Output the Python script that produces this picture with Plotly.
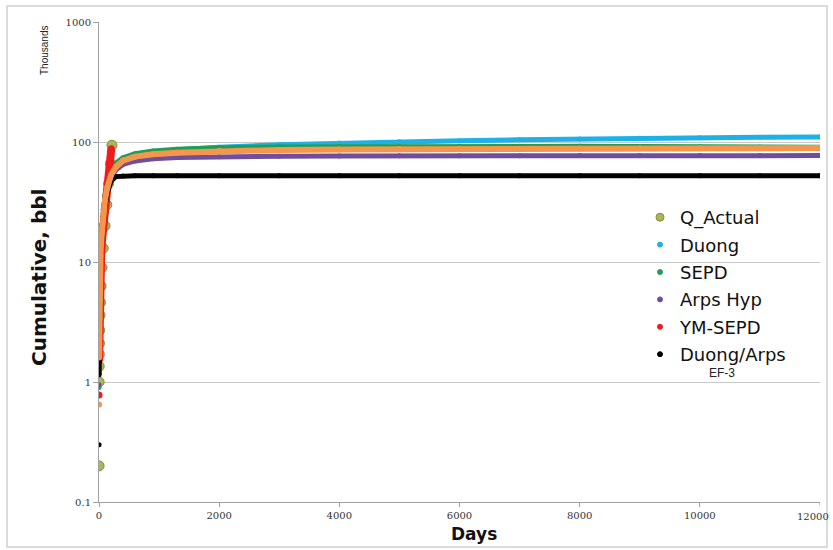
import plotly.graph_objects as go

# ---- data (cumulative production, thousands of bbl) ----
actual_days = [1, 2, 3, 5, 8, 12, 18, 25, 35, 50, 70, 100, 130, 160, 190, 215]
actual_q = [0.2, 1.0, 1.35, 1.7, 2.1, 2.7, 3.6, 4.6, 6.3, 9.0, 13.0, 20.0, 30.0, 45.0, 66.0, 94.0]

ym_days = [1, 2, 3, 5, 8, 12, 18, 25, 35, 50, 70, 100, 130, 160, 190, 205]
ym_sepd = [0.78, 1.5, 2.1, 3.0, 4.0, 5.2, 6.8, 8.5, 11.0, 15.0, 19.5, 26.0, 35.0, 48.0, 66.0, 88.0]

model_days = [1, 2, 3, 5, 8, 12, 18, 25, 35, 50, 70, 100, 140, 200, 280, 400, 600, 900,
              1300, 2000, 3000, 4000, 5000, 6000, 7000, 8000, 9000, 10000, 11000, 12000]
duong = [1.2, 1.9, 2.6, 3.8, 5.3, 7.2, 9.6, 12.3, 16.0, 21.0, 27.5, 36.0, 45.5, 57.0, 66.0,
         73.0, 78.5, 82.5, 86.0, 90.5, 95.0, 98.0, 100.5, 102.5, 104.3, 106.0, 107.3, 108.5,
         109.5, 110.3]
sepd = [0.9, 1.7, 2.5, 3.6, 5.1, 6.9, 9.3, 12.0, 15.5, 20.5, 27.0, 35.5, 45.0, 57.0, 66.5,
        74.0, 80.0, 84.0, 87.0, 89.5, 91.0, 91.6, 91.9, 92.0, 92.0, 92.0, 91.8, 91.3, 90.8, 90.5]
arps_hyp = [0.95, 1.6, 2.3, 3.4, 4.8, 6.5, 8.7, 11.0, 14.2, 18.5, 24.0, 31.5, 40.0, 50.0, 58.5,
            65.0, 69.5, 72.5, 74.3, 75.5, 76.2, 76.5, 76.7, 76.8, 76.9, 77.0, 77.0, 77.0, 77.0,
            77.0]
duong_arps = [0.3, 1.15, 2.0, 3.0, 4.3, 5.9, 8.0, 10.3, 13.3, 17.3, 22.5, 29.5, 38.0, 47.0,
              51.5, 52.2, 52.4, 52.4, 52.4, 52.4, 52.4, 52.4, 52.4, 52.4, 52.4, 52.4, 52.4,
              52.4, 52.4, 52.4]
ef_fit = [0.65, 1.6, 2.3, 3.4, 4.8, 6.5, 8.8, 11.2, 14.5, 19.0, 25.0, 33.0, 42.0, 53.0, 62.0,
          70.0, 75.5, 79.0, 81.5, 84.0, 85.8, 86.7, 87.3, 87.7, 88.0, 88.3, 88.5, 88.7, 88.9,
          89.0]

x_ticks = [0, 2000, 4000, 6000, 8000, 10000, 12000]
x_tick_text = ["0", "2000", "4000", "6000", "8000", "10000", "12000"]
y_ticks = [0.1, 1, 10, 100, 1000]
y_tick_text = ["0.1", "1", "10", "100", "1000"]

C_ACT = "#a9b65a"
C_ACT_EDGE = "#8f8a3c"
C_DUONG = "#1db1e6"
C_SEPD = "#1f9e55"
C_ARPS = "#704e9c"
C_YM = "#ee1c1c"
C_DA = "#000000"
C_EF = "#f5964c"

TICK_FONT = dict(family="DejaVu Serif", size=10, color="#333333")

fig = go.Figure()

# actual data points
fig.add_trace(go.Scatter(
    x=actual_days, y=actual_q, mode="markers", showlegend=False,
    marker=dict(size=10, color=C_ACT, line=dict(color=C_ACT_EDGE, width=1))))


def model(xs, ys, color, width=5, msize=5):
    # the first (day-one) value stays a lone marker; the rest forms the curve
    fig.add_trace(go.Scatter(
        x=xs[1:], y=ys[1:], mode="lines", showlegend=False,
        line=dict(color=color, width=width)))
    fig.add_trace(go.Scatter(
        x=xs, y=ys, mode="markers", showlegend=False,
        marker=dict(size=msize, color=color)))


model(model_days, duong, C_DUONG)
model(model_days, sepd, C_SEPD)
model(model_days, arps_hyp, C_ARPS)
model(ym_days, ym_sepd, C_YM, width=8, msize=7)
model(model_days, duong_arps, C_DA)
model(model_days, ef_fit, C_EF, width=6, msize=6)

# legend entries (marker-only symbols)
legend_items = [("Q_Actual", C_ACT, 8), ("Duong", C_DUONG, 5), ("SEPD", C_SEPD, 5),
                ("Arps Hyp", C_ARPS, 5), ("YM-SEPD", C_YM, 5), ("Duong/Arps", C_DA, 5)]
for name, color, size in legend_items:
    fig.add_trace(go.Scatter(
        x=[None], y=[None], mode="markers", name=name, legendgroup=name,
        marker=dict(size=size, color=color,
                    line=dict(color=C_ACT_EDGE if name == "Q_Actual" else color, width=1))))

L, R, T, B = 99, 13, 22, 48
W, H = 833, 550
pw, ph = W - L - R, H - T - B


def px_x(p):
    return (p - L) / pw


def px_y(p):
    return (H - B - p) / ph


fig.update_layout(
    width=W, height=H,
    margin=dict(l=L, r=R, t=T, b=B, autoexpand=False),
    paper_bgcolor="white", plot_bgcolor="white",
    showlegend=True,
    legend=dict(x=px_x(640), y=px_y(199), xanchor="left", yanchor="top",
                bgcolor="rgba(0,0,0,0)", tracegroupgap=1,
                font=dict(family="DejaVu Sans", size=18, color="#111111")),
    xaxis=dict(range=[0, 12000], tickvals=x_ticks[:-1], ticktext=x_tick_text[:-1],
               showgrid=False, zeroline=False, automargin=False,
               showline=True, linecolor="#a0a0a0", linewidth=1,
               ticks="outside", ticklen=4, tickcolor="#a0a0a0",
               tickfont=TICK_FONT),
    yaxis=dict(type="log", range=[-1, 3], tickvals=y_ticks, ticktext=y_tick_text,
               showgrid=True, gridcolor="#c8c8c8", gridwidth=1, zeroline=False,
               automargin=False,
               showline=True, linecolor="#a0a0a0", linewidth=1,
               ticks="outside", ticklen=5, tickcolor="#a0a0a0",
               tickfont=TICK_FONT),
)

# last x tick: label kept inside the chart's right edge
fig.add_annotation(x=px_x(831), xref="paper", y=px_y(516), yref="paper",
                   text=x_tick_text[-1], showarrow=False, xanchor="right",
                   yanchor="middle", font=TICK_FONT)
fig.add_shape(type="line", xref="x", yref="paper", x0=x_ticks[-1], x1=x_ticks[-1],
              y0=0, y1=px_y(506), line=dict(color="#a0a0a0", width=1))

annotations = [
    dict(text="<b>Days</b>", x=px_x(474), y=px_y(534),
         font=dict(family="DejaVu Sans", size=17, color="#111111")),
    dict(text="<b>Cumulative, bbl</b>", x=px_x(39), y=px_y(278), textangle=-90,
         font=dict(family="DejaVu Sans", size=20, color="#111111")),
    dict(text="Thousands", x=px_x(44), y=px_y(51), textangle=-90,
         font=dict(family="Liberation Sans", size=10, color="#222222")),
    dict(text="EF-3", x=px_x(722), y=px_y(373),
         font=dict(family="Liberation Sans", size=12, color="#222222")),
]
for a in annotations:
    fig.add_annotation(xref="paper", yref="paper", showarrow=False,
                       xanchor="center", yanchor="middle", **a)

# outer chart frame
fig.add_shape(type="rect", xref="paper", yref="paper",
              x0=px_x(7), x1=px_x(827), y0=px_y(547), y1=px_y(6),
              line=dict(color="#d0d0d0", width=1.5), layer="below")

fig.write_html("out.html")
